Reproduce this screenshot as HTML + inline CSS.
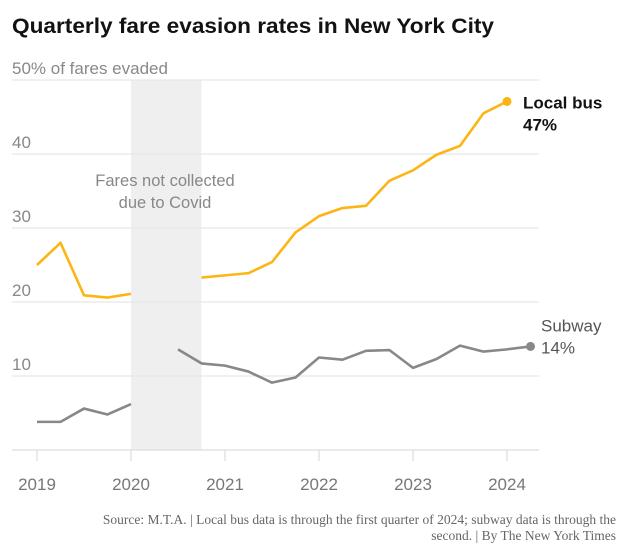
<!DOCTYPE html>
<html><head><meta charset="utf-8"><style>
html,body{margin:0;padding:0;background:#fff;}
svg{display:block;font-family:"Liberation Sans",sans-serif;}
</style></head><body>
<svg id="chart" width="624" height="556" viewBox="0 0 624 556">
<text x="12" y="33" font-size="21" font-weight="bold" fill="#121212" textLength="482" lengthAdjust="spacingAndGlyphs">Quarterly fare evasion rates in New York City</text>
<g id="grid"></g>
<g id="series"></g>
<text x="616" y="524" font-family="Liberation Serif,serif" font-size="13.5" fill="#666" text-anchor="end">Source: M.T.A. | Local bus data is through the first quarter of 2024; subway data is through the</text>
<text x="616" y="540" font-family="Liberation Serif,serif" font-size="13.5" fill="#666" text-anchor="end">second. | By The New York Times</text>
</svg>
<script>
const yTicks = [0, 10, 20, 30, 40, 50];
const xYears = [2019, 2020, 2021, 2022, 2023, 2024];
const busTimesA = [2019, 2019.25, 2019.5, 2019.75, 2020];
const busValuesA = [25.0, 28.0, 20.9, 20.6, 21.1];
const busTimesB = [2020.75, 2021, 2021.25, 2021.5, 2021.75, 2022, 2022.25, 2022.5, 2022.75, 2023, 2023.25, 2023.5, 2023.75, 2024];
const busValuesB = [23.3, 23.6, 23.9, 25.4, 29.4, 31.6, 32.7, 33.0, 36.4, 37.8, 39.9, 41.1, 45.5, 47.1];
const subTimesA = [2019, 2019.25, 2019.5, 2019.75, 2020];
const subValuesA = [3.8, 3.8, 5.6, 4.8, 6.2];
const subTimesB = [2020.5, 2020.75, 2021, 2021.25, 2021.5, 2021.75, 2022, 2022.25, 2022.5, 2022.75, 2023, 2023.25, 2023.5, 2023.75, 2024, 2024.25];
const subValuesB = [13.6, 11.7, 11.4, 10.6, 9.1, 9.8, 12.5, 12.2, 13.4, 13.5, 11.1, 12.3, 14.1, 13.3, 13.6, 14.0];
const covidBand = [2020, 2020.75];

const NS = "http://www.w3.org/2000/svg";
const x = t => 37 + (t - 2019) * 94;
const y = v => 450 - v * 7.4;
function mk(tag, attrs, parent, txt) {
  const e = document.createElementNS(NS, tag);
  for (const k in attrs) e.setAttribute(k, attrs[k]);
  if (txt !== undefined) e.textContent = txt;
  parent.appendChild(e);
  return e;
}
const grid = document.getElementById('grid');
const ser = document.getElementById('series');

let band = mk('rect', {x: x(covidBand[0]), y: y(50), width: x(covidBand[1]) - x(covidBand[0]), height: y(0) - y(50), fill: '#efefef'}, grid);


let bl1 = mk('text', {x: 165, y: 186, 'font-size': 16.5, fill: '#888', 'text-anchor': 'middle'}, grid, 'Fares not collected');


let bl2 = mk('text', {x: 165, y: 208, 'font-size': 16.5, fill: '#888', 'text-anchor': 'middle'}, grid, 'due to Covid');



yTicks.forEach(v => {
  const gl = mk('line', {x1: 12, x2: 539, y1: y(v), y2: y(v), stroke: v === 0 ? '#ddd' : '#e6e6e6', 'stroke-width': 1.2}, grid);
  
  
  if (v > 0) {
    const lbl = mk('text', {x: 12, y: y(v) - 6, 'font-size': 17, fill: '#888'}, grid, v === 50 ? '50% of fares evaded' : String(v));
    
    
  }
});
xYears.forEach(yr => {
  const tk = mk('line', {x1: x(yr), x2: x(yr), y1: 450, y2: 461, stroke: '#ddd', 'stroke-width': 1.2}, grid);
  
  
  const lbl = mk('text', {x: x(yr), y: 490, 'font-size': 17, fill: '#777', 'text-anchor': 'middle'}, grid, String(yr));
  
  
});

function line(ts, vs, color, name) {
  const p = mk('polyline', {points: ts.map((t, i) => x(t) + ',' + y(vs[i])).join(' '), fill: 'none', stroke: color, 'stroke-width': 2.6, 'stroke-linejoin': 'round'}, ser);
  
  
}
line(busTimesA, busValuesA, '#fdb515', 'bus-line-pre-covid');
line(busTimesB, busValuesB, '#fdb515', 'bus-line-post-covid');
line(subTimesA, subValuesA, '#888', 'subway-line-pre-covid');
line(subTimesB, subValuesB, '#888', 'subway-line-post-covid');

const bt = busTimesB[busTimesB.length - 1], bv = busValuesB[busValuesB.length - 1];
const bd = mk('circle', {cx: x(bt), cy: y(bv), r: 4.5, fill: '#fdb515'}, ser);


const st = subTimesB[subTimesB.length - 1], sv = subValuesB[subValuesB.length - 1];
const sd = mk('circle', {cx: x(st), cy: y(sv), r: 4.5, fill: '#888'}, ser);



const l1 = mk('text', {x: 523, y: y(bv) + 7, 'font-size': 17, 'font-weight': 'bold', fill: '#121212'}, ser, 'Local bus');


const l2 = mk('text', {x: 523, y: y(bv) + 29, 'font-size': 17, 'font-weight': 'bold', fill: '#121212'}, ser, Math.round(bv) + '%');


const l3 = mk('text', {x: 541, y: y(sv) - 15, 'font-size': 17, fill: '#555'}, ser, 'Subway');


const l4 = mk('text', {x: 541, y: y(sv) + 7, 'font-size': 17, fill: '#555'}, ser, Math.round(sv) + '%');


</script>
</body></html>
